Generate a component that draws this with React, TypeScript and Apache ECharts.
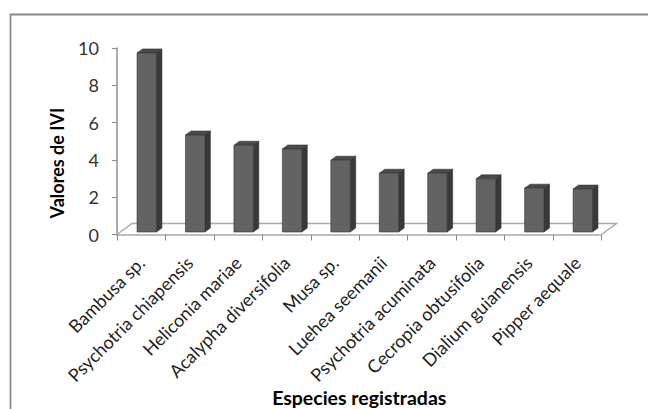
import React, { useEffect, useRef } from "react";
import * as echarts from "echarts";

// Species recorded and their importance value index (IVI)
const categories = [
  "Bambusa sp.",
  "Psychotria chiapensis",
  "Heliconia mariae",
  "Acalypha diversifolia",
  "Musa sp.",
  "Luehea seemanii",
  "Psychotria acuminata",
  "Cecropia obtusifolia",
  "Dialium guianensis",
  "Pipper aequale",
];
const iviValues = [9.6, 5.2, 4.65, 4.45, 3.85, 3.15, 3.15, 2.85, 2.35, 2.3];

const yMin = 0;
const yMax = 10;
const yStep = 2;

const FONT = "Lato, 'Open Sans', sans-serif";

// oblique depth used for the pseudo-3D columns and floor
const FLOOR_DX = 15;
const FLOOR_DY = -11;
const BAR_SHIFT_X = 5.5;
const BAR_SHIFT_Y = -2.5;
const BAR_DEPTH_X = 5.5;
const BAR_DEPTH_Y = -4;

export default function App() {
  const ref = useRef<HTMLDivElement>(null);

  useEffect(() => {
    if (!ref.current) return;
    const chart = echarts.init(ref.current, undefined, { renderer: "svg" });

    const floorItem = (params: any, api: any) => {
      const [x0, y0] = api.coord([0, 0]);
      const [x9] = api.coord([categories.length - 1, 0]);
      const bw = api.size([1, 0])[0];
      const left = x0 - bw / 2;
      const right = x9 + bw / 2;
      return {
        type: "polyline",
        shape: {
          points: [
            [left, y0],
            [left + FLOOR_DX, y0 + FLOOR_DY],
            [right + FLOOR_DX, y0 + FLOOR_DY],
            [right, y0],
          ],
        },
        style: { stroke: "#aaaaaa", lineWidth: 1.5, fill: "none" },
      };
    };

    const barItem = (params: any, api: any) => {
      const i = api.value(0);
      const v = api.value(1);
      const [cx, yTop] = api.coord([i, v]);
      const [, y0] = api.coord([i, 0]);
      const bw = api.size([1, 0])[0];
      const faceW = bw * 0.4;
      const fl = cx + BAR_SHIFT_X - faceW / 2;
      const fr = fl + faceW;
      const bottom = y0 + BAR_SHIFT_Y;
      const top = yTop + BAR_SHIFT_Y;
      const edge = { stroke: "#333333", lineWidth: 0.6 };
      return {
        type: "group",
        children: [
          {
            type: "polygon",
            shape: {
              points: [
                [fr, bottom],
                [fr + BAR_DEPTH_X, bottom + BAR_DEPTH_Y],
                [fr + BAR_DEPTH_X, top + BAR_DEPTH_Y],
                [fr, top],
              ],
            },
            style: { fill: "#393939", ...edge },
          },
          {
            type: "polygon",
            shape: {
              points: [
                [fl, top],
                [fl + BAR_DEPTH_X, top + BAR_DEPTH_Y],
                [fr + BAR_DEPTH_X, top + BAR_DEPTH_Y],
                [fr, top],
              ],
            },
            style: { fill: "#4a4a4a", ...edge },
          },
          {
            type: "rect",
            shape: { x: fl, y: top, width: faceW, height: bottom - top },
            style: { fill: "#636363", ...edge },
          },
        ],
      };
    };

    chart.setOption({
      animation: false,
      backgroundColor: "#ffffff",
      grid: { left: 117, right: 46.5, top: 48, bottom: 174.5, containLabel: false },
      xAxis: {
        type: "category",
        data: categories,
        boundaryGap: true,
        name: "Especies registradas",
        nameLocation: "middle",
        nameGap: 150,
        nameTextStyle: { fontFamily: FONT, fontWeight: "bold", fontSize: 19.5, color: "#000000" },
        axisLine: { show: true, lineStyle: { color: "#a8a8a8", width: 1.5 } },
        axisTick: { show: true, alignWithLabel: false, length: 6, lineStyle: { color: "#8c8c8c", width: 1 } },
        axisLabel: {
          rotate: 45,
          interval: 0,
          margin: 25,
          fontFamily: FONT,
          fontSize: 18,
          color: "#1f1f1f",
        },
        splitLine: { show: false },
      },
      yAxis: {
        type: "value",
        min: yMin,
        max: yMax,
        interval: yStep,
        axisLine: { show: true, lineStyle: { color: "#8c8c8c", width: 1.5 } },
        axisTick: { show: true, inside: false, length: 5, lineStyle: { color: "#8c8c8c", width: 1 } },
        axisLabel: { margin: 18, fontFamily: FONT, fontSize: 18, color: "#333333" },
        splitLine: { show: false },
      },
      graphic: [
        {
          type: "rect",
          left: 8,
          top: 12,
          shape: { width: 642, height: 500 },
          style: { fill: "none", stroke: "#8a8a8a", lineWidth: 1.8 },
          silent: true,
        },
        {
          type: "text",
          x: 56.5,
          y: 163,
          rotation: Math.PI / 2,
          style: {
            text: "Valores de IVI",
            fontFamily: FONT,
            fontWeight: "bold",
            fontSize: 18,
            fill: "#000000",
            align: "center",
            verticalAlign: "middle",
          },
        },
      ],
      series: [
        {
          type: "custom",
          name: "floor",
          renderItem: floorItem,
          data: [[0, 0]],
          encode: { x: 0, y: 1 },
          z: 1,
          silent: true,
        },
        {
          type: "custom",
          name: "IVI",
          renderItem: barItem,
          data: iviValues.map((v, i) => [i, v]),
          encode: { x: 0, y: 1 },
          z: 3,
        },
      ],
    });

    return () => chart.dispose();
  }, []);

  return (
    <div
      ref={ref}
      style={{ position: "fixed", left: 0, top: 0, width: 648, height: 409, background: "#fff" }}
    />
  );
}
